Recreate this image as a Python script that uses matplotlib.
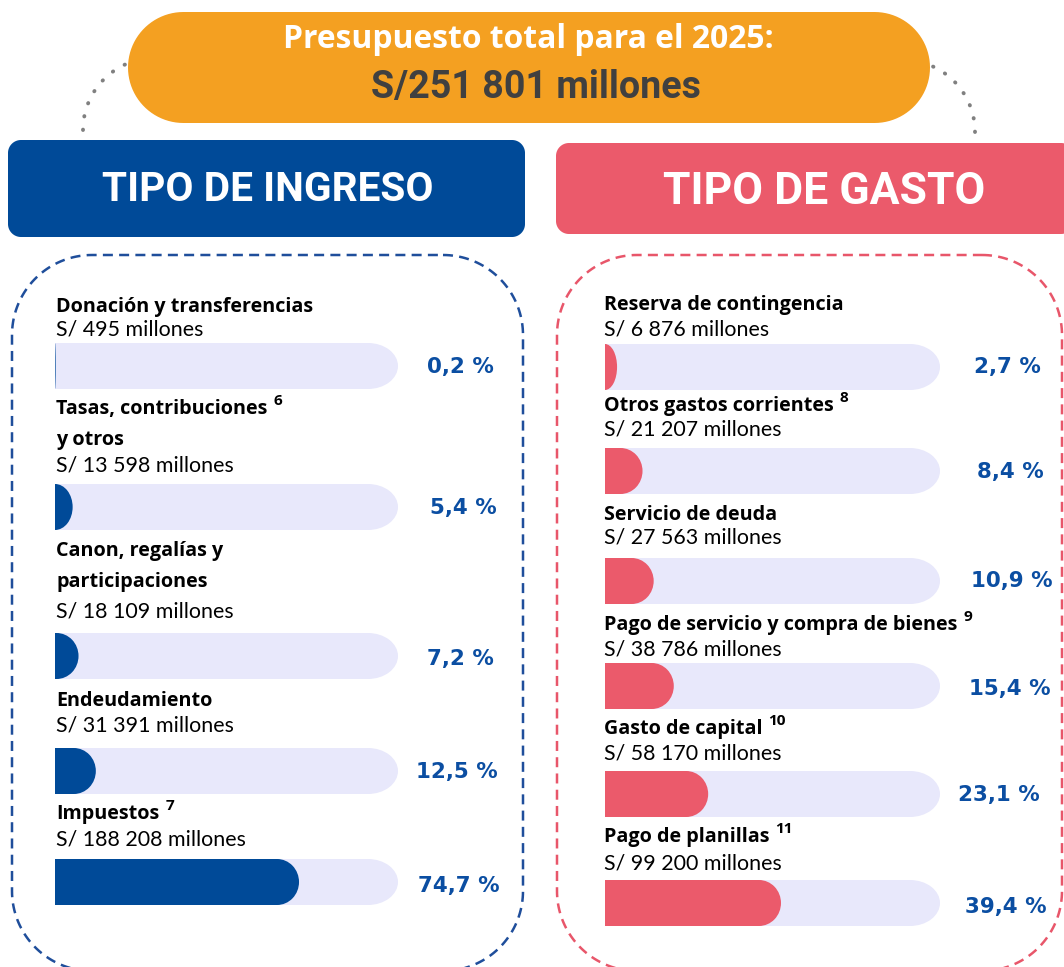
import numpy as np
import matplotlib
matplotlib.use("Agg")
import matplotlib.pyplot as plt
from matplotlib.patches import Polygon, Ellipse

# ---------------- data ----------------
total_budget = 251801
title_line = "Presupuesto total para el 2025:"
ingreso_title = "TIPO DE INGRESO"
gasto_title = "TIPO DE GASTO"

ingreso_labels = ["Donación y transferencias", "Tasas, contribuciones\ny otros",
                  "Canon, regalías y\nparticipaciones", "Endeudamiento", "Impuestos"]
ingreso_notes = ["", "6", "", "", "7"]
ingreso_montos = [495, 13598, 18109, 31391, 188208]
ingreso_pct = [0.2, 5.4, 7.2, 12.5, 74.7]

gasto_labels = ["Reserva de contingencia", "Otros gastos corrientes", "Servicio de deuda",
                "Pago de servicio y compra de bienes", "Gasto de capital", "Pago de planillas"]
gasto_notes = ["", "8", "", "9", "10", "11"]
gasto_montos = [6876, 21207, 27563, 38786, 58170, 99200]
gasto_pct = [2.7, 8.4, 10.9, 15.4, 23.1, 39.4]

# ---------------- style / layout ----------------
W, H = 1064, 967
BLUE = "#004A98"
RED = "#EB5A6B"
ORANGE = "#F4A021"
TRACK = "#E8E8FB"
PCT_COL = "#0B4EA2"
GRAY_DOT = "#808080"

BOLD_FONT = ["Open Sans", "DejaVu Sans"]
REG_FONT = ["Lato", "DejaVu Sans"]
NARROW_FONT = ["Liberation Sans Narrow", "Roboto", "DejaVu Sans"]
PCT_FONT = ["DejaVu Sans"]

fig = plt.figure(figsize=(W / 100, H / 100), dpi=100)
fig.patch.set_facecolor("white")
base = fig.add_axes([0, 0, 1, 1])
base.set_xlim(0, W)
base.set_ylim(H, 0)
base.axis("off")
renderer = fig.canvas.get_renderer()


def fit(ax, x, y, s, width, **kw):
    t = ax.text(x, y, s, **kw)
    w = t.get_window_extent(renderer).width
    t.set_fontsize(t.get_fontsize() * width / w)
    return t


def fmt(v):
    return f"{v:,}".replace(",", " ")


def rrect(x, y, w, h, r, n=24):
    r = min(r, w / 2, h / 2)
    pts = []
    corners = [(x + w - r, y + r, -90, 0), (x + w - r, y + h - r, 0, 90),
               (x + r, y + h - r, 90, 180), (x + r, y + r, 180, 270)]
    for cx, cy, a0, a1 in corners:
        a = np.radians(np.linspace(a0, a1, n))
        pts.extend(zip(cx + r * np.cos(a), cy + r * np.sin(a)))
    return np.array(pts)


# ---- dotted arcs ----
ang = np.linspace(np.pi, np.pi * 0.60, 40)
base.plot(155 + 72 * np.cos(ang), 130 - 72 * np.sin(ang), color=GRAY_DOT, lw=2.8,
          linestyle=(0, (0.1, 3.4)), dash_capstyle="round")
ang2 = np.linspace(0, np.pi * 0.40, 40)
base.plot(903 + 72 * np.cos(ang2), 132 - 72 * np.sin(ang2), color=GRAY_DOT, lw=2.8,
          linestyle=(0, (0.1, 3.4)), dash_capstyle="round")

# ---- orange pill ----
base.add_patch(Polygon(rrect(128, 12, 802, 111, 56), closed=True, fc=ORANGE, ec="none", zorder=3))
fit(base, 528, 40, title_line, 493, ha="center", va="center", color="white",
    fontweight="bold", family=BOLD_FONT, zorder=4)
fit(base, 536, 87, "S/" + fmt(total_budget) + " millones", 330, ha="center", va="center",
    color="#404040", fontweight="bold", family=NARROW_FONT, zorder=4)

# ---- header boxes ----
base.add_patch(Polygon(rrect(8, 140, 517, 97, 13), closed=True, fc=BLUE, ec="none", zorder=3))
fit(base, 268, 190, ingreso_title, 330, ha="center", va="center", color="white",
    fontweight="bold", family=NARROW_FONT, zorder=4)
base.add_patch(Polygon(rrect(556, 143, 518, 91, 13), closed=True, fc=RED, ec="none", zorder=3))
fit(base, 824, 192, gasto_title, 322, ha="center", va="center", color="white",
    fontweight="bold", family=NARROW_FONT, zorder=4)

# ---- dashed panels ----
base.add_patch(Polygon(rrect(12, 255, 511, 716, 80, 40), closed=True, fc="none",
                       ec="#1F4E9B", lw=1.8, linestyle=(0, (4, 2.5))))
base.add_patch(Polygon(rrect(557, 255, 505, 716, 80, 40), closed=True, fc="none",
                       ec="#E8566A", lw=1.8, linestyle=(0, (4, 2.5))))

# reference font sizes
probe = fit(base, -500, -500, "Donación y transferencias", 257, fontweight="bold", family=BOLD_FONT)
LBL_FS = probe.get_fontsize()
probe.remove()
probe = fit(base, -500, -500, "S/ 495 millones", 147, family=REG_FONT)
VAL_FS = probe.get_fontsize()
probe.remove()
probe = fit(base, -500, -500, "0,2 %", 67, fontweight="bold", family=PCT_FONT)
PCT_FS = probe.get_fontsize()
probe.remove()


def panel(labels, notes, montos, pcts, color, x0, x1, xmax, label_x, label_ys, line_gap,
          val_ys, track_ys, pct_xs, pct_ys, bar_h=46):
    ax = fig.add_axes([x0 / W, 0, (x1 - x0) / W, 1])
    ax.set_xlim(0, xmax)
    ax.set_ylim(H, 0)
    ax.axis("off")
    ax.patch.set_alpha(0)
    upx = xmax / (x1 - x0)  # data units per pixel
    rt = 30 * upx
    rf = 22 * upx
    # tracks
    ax.barh(track_ys, [xmax - rt] * len(track_ys), height=bar_h, color=TRACK, lw=0)
    for y in track_ys:
        ax.add_patch(Ellipse((xmax - rt, y), 2 * rt, bar_h, fc=TRACK, ec="none"))
    # fills
    caps = [min(rf, p) for p in pcts]
    ax.barh(track_ys, [p - c for p, c in zip(pcts, caps)], height=bar_h, color=color, lw=0, zorder=3)
    for p, c, y in zip(pcts, caps, track_ys):
        ax.add_patch(Ellipse((p - c, y), 2 * c, bar_h, fc=color, ec="none", zorder=3))
    # texts
    for lab, note, m, p, ly, vy, px, py in zip(labels, notes, montos, pcts, label_ys,
                                                val_ys, pct_xs, pct_ys):
        lines = lab.split("\n")
        first = None
        for i, ln in enumerate(lines):
            t = base.text(label_x, ly + i * line_gap, ln, va="center", ha="left",
                          fontsize=LBL_FS, fontweight="bold", family=BOLD_FONT, color="black")
            if i == 0:
                first = t
        if note:
            bb = first.get_window_extent(renderer)
            base.text(bb.x1 + 6, ly - 8, note, va="center", ha="left",
                      fontsize=LBL_FS * 0.78, fontweight="bold", family=BOLD_FONT, color="black")
        base.text(label_x, vy, f"S/ {fmt(m)} millones", va="center", ha="left",
                  fontsize=VAL_FS, family=REG_FONT, color="black")
        base.text(px, py, f"{p:.1f} %".replace(".", ","), va="center", ha="center",
                  fontsize=PCT_FS, fontweight="bold", family=PCT_FONT, color=PCT_COL)


panel(ingreso_labels, ingreso_notes, ingreso_montos, ingreso_pct, BLUE,
      55, 398, 105, 56,
      [307, 409, 551, 701, 814], 31,
      [330, 466, 611, 725, 840],
      [366, 507, 656, 771, 882],
      [460, 463, 460, 457, 459],
      [367, 508, 659, 772, 886])

panel(gasto_labels, gasto_notes, gasto_montos, gasto_pct, RED,
      605, 940, 75, 604,
      [305, 406, 515, 625, 729, 837], 31,
      [329, 430, 538, 649, 753, 863],
      [367, 471, 581, 686, 794, 903],
      [1007, 1010, 1012, 1010, 999, 1006],
      [367, 472, 581, 689, 795, 907])

fig.savefig("out.png", dpi=100, facecolor="white")
